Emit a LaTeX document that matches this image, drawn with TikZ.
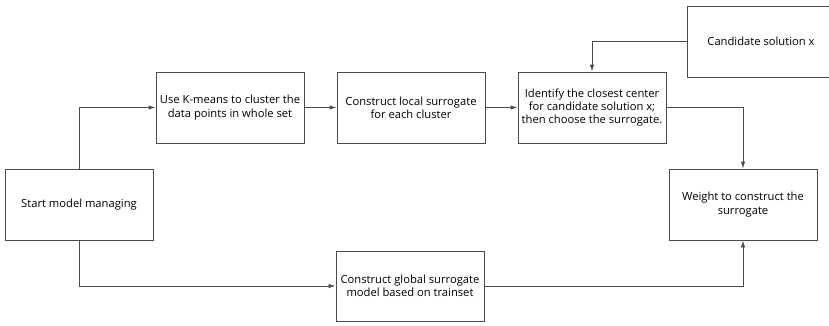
\documentclass[tikz,border=0pt]{standalone}
\usepackage{fontspec}
\setmainfont{Open Sans}
\usetikzlibrary{arrows.meta}
\begin{document}
\begin{tikzpicture}[x=1pt,y=-1pt,
  stepbox/.style={draw=black!70, line width=0.9pt, fill=white,
    minimum width=148pt, minimum height=71pt, inner sep=1pt,
    align=center, font=\fontsize{11.2}{13.4}\selectfont},
  flow/.style={draw=black!70, line width=0.9pt,
    -{Latex[length=7pt,width=4.5pt]}}]
  \useasboundingbox (0,0) rectangle (829,325);
  \begin{scope}
  \clip (0,0) rectangle (829,325);
  \node[stepbox] (start)  at (79,204.5)  {Start model managing};
  \node[stepbox] (kmeans) at (230,107.5) {Use K-means to cluster the\\data points in whole set};
  \node[stepbox] (local)  at (411,107.5) {Construct local surrogate\\for each cluster};
  \node[stepbox] (ident)  at (592,107.5) {Identify the closest center\\for candidate solution x;\\then choose the surrogate.};
  \node[stepbox] (cand)   at (761,41.5)  {Candidate solution x};
  \node[stepbox] (weight) at (743,204.5) {Weight to construct the\\surrogate};
  \node[stepbox, minimum height=70pt] (global) at (410,286) {Construct global surrogate\\model based on trainset};

  \draw[flow] (start.north) |- (kmeans.west);
  \draw[flow] (start.south) |- (global.west);
  \draw[flow] (kmeans) -- (local);
  \draw[flow] (local) -- (ident);
  \draw[flow] (cand.west) -| (ident.north);
  \draw[flow] (ident.east) -| (weight.north);
  \draw[flow] (global.east) -| (weight.south);
  \end{scope}
\end{tikzpicture}
\end{document}
